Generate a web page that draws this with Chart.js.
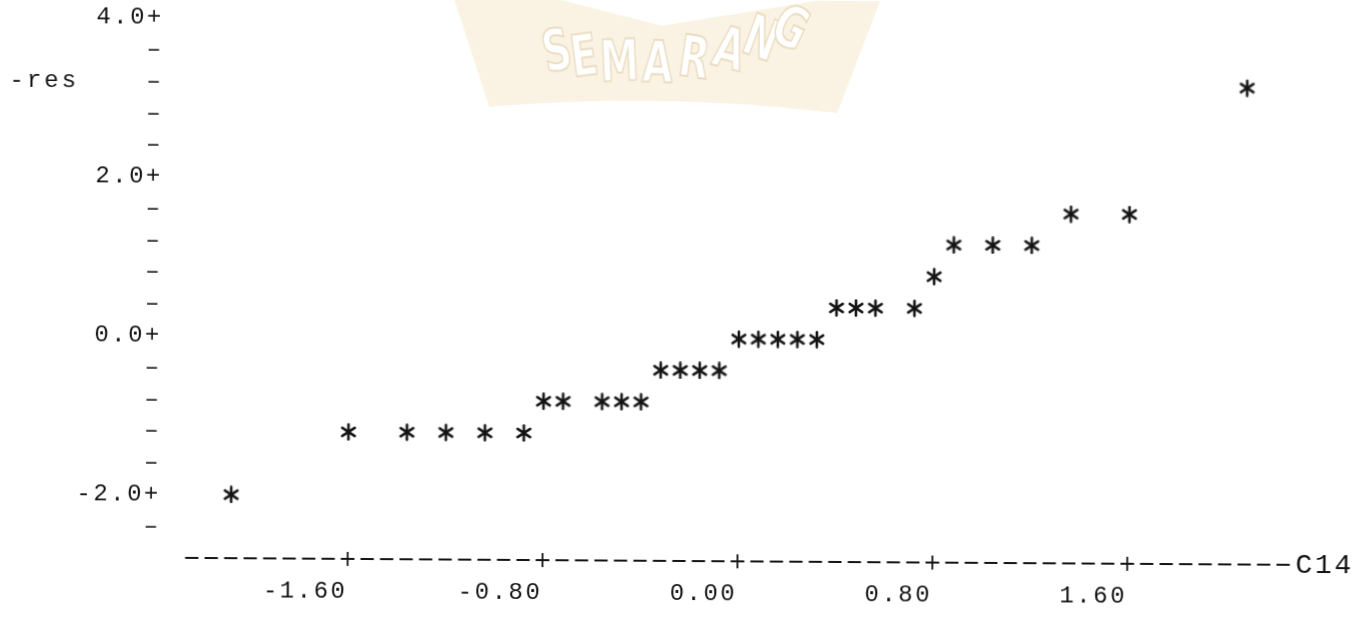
<!DOCTYPE html>
<html>
<head>
<meta charset="utf-8">
<title>Normal plot of residuals</title>
<script src="https://cdn.jsdelivr.net/npm/chart.js@4.4.1/dist/chart.umd.min.js"></script>
<style>
  html, body { margin: 0; padding: 0; background: #fff; overflow: hidden; }
  #sheet { width: 1366px; height: 630px; transform: rotate(0.36deg); transform-origin: 683px 315px; }
  canvas { display: block; }
</style>
</head>
<body>
<div id="sheet"><canvas id="plot" width="1366" height="630"></canvas></div>
<script>
// Normal scores (C14) against residuals, one entry per plotted '*'
const normalScores = [-2.08, -1.60, -1.36, -1.20, -1.04, -0.88, -0.80, -0.72, -0.56, -0.48,
                      -0.40, -0.32, -0.24, -0.16, -0.08, 0.00, 0.08, 0.16, 0.24, 0.32,
                      0.40, 0.48, 0.56, 0.72, 0.80, 0.88, 1.04, 1.20, 1.36, 1.60, 2.08];
const residuals = [-2.0, -1.2, -1.2, -1.2, -1.2, -1.2, -0.8, -0.8, -0.8, -0.8,
                   -0.8, -0.4, -0.4, -0.4, -0.4, 0.0, 0.0, 0.0, 0.0, 0.0,
                   0.4, 0.4, 0.4, 0.4, 0.8, 1.2, 1.2, 1.2, 1.6, 1.6, 3.2];

const xTickValues = [-1.6, -0.8, 0.0, 0.8, 1.6];
const xTickLabels = ['-1.60', '-0.80', '0.00', '0.80', '1.60'];
const yTickValues = [4.0, 3.6, 3.2, 2.8, 2.4, 2.0, 1.6, 1.2, 0.8, 0.4, 0.0, -0.4, -0.8, -1.2, -1.6, -2.0, -2.4];
const yTickLabels = ['4.0+', '–', '–', '–', '–', '2.0+', '–', '–', '–', '–', '0.0+', '–', '–', '–', '–', '-2.0+', '–'];

const X_NAME = 'C14';
const Y_NAME = '-res';
const Y_NAME_ROW = 3.2;

const INK = '#141414';
const MONO = '"Liberation Mono", "DejaVu Sans Mono", monospace';

// six-armed asterisk used as the point glyph
function asteriskGlyph(size, lw) {
  const c = document.createElement('canvas');
  c.width = c.height = size;
  const g = c.getContext('2d');
  g.strokeStyle = INK;
  g.lineWidth = lw;
  g.lineCap = 'round';
  const cx = size / 2, cy = size / 2, r = size / 2 - lw / 2 - 0.2;
  [90, 33, 147].forEach(a => {
    const t = a * Math.PI / 180;
    g.beginPath();
    g.moveTo(cx - r * Math.cos(t), cy - r * Math.sin(t));
    g.lineTo(cx + r * Math.cos(t), cy + r * Math.sin(t));
    g.stroke();
  });
  return c;
}

function labelFor(values, labels, v) {
  const i = values.findIndex(t => Math.abs(t - v) < 1e-6);
  return i < 0 ? '' : labels[i];
}

// faint emblem behind the plot + typewriter letter spacing
const paper = {
  id: 'paper',
  beforeDraw(chart) {
    const ctx = chart.ctx;
    ctx.save();
    ctx.letterSpacing = '0px';
    ctx.fillStyle = '#faf3e4';
    ctx.beginPath();
    ctx.moveTo(452, 0);
    ctx.lineTo(556, 0);
    ctx.lineTo(660, 26);
    ctx.lineTo(814, 0);
    ctx.lineTo(878, 0);
    ctx.lineTo(836, 112);
    ctx.quadraticCurveTo(660, 92, 488, 108);
    ctx.closePath();
    ctx.fill();
    const letters = [['S', 556, 56, -12], ['E', 583, 61, -8], ['M', 618, 66, -3], ['A', 656, 67, 2],
                     ['R', 692, 62, 8], ['A', 727, 53, 14], ['N', 758, 42, 20], ['G', 787, 31, 25]];
    ctx.font = 'bold 48px "DejaVu Sans", "Liberation Sans", sans-serif';
    ctx.textAlign = 'center';
    ctx.textBaseline = 'middle';
    ctx.fillStyle = '#ffffff';
    ctx.strokeStyle = '#eadcc0';
    ctx.lineWidth = 1.6;
    letters.forEach(([ch, x, y, a]) => {
      ctx.save();
      ctx.translate(x, y);
      ctx.rotate(a * Math.PI / 180);
      ctx.scale(0.82, 1.2);
      ctx.fillText(ch, 0, 0);
      ctx.strokeText(ch, 0, 0);
      ctx.restore();
    });
    ctx.restore();
    ctx.letterSpacing = '2.5px';
  },
  // character-style horizontal axis: dashes with '+' at each labelled tick
  afterDraw(chart) {
    const ctx = chart.ctx;
    const xs = chart.scales.x, ys = chart.scales.y;
    const y0 = xs.top;
    const cell = xs.getPixelForValue(0.08) - xs.getPixelForValue(0);
    const dash = cell * 0.68;
    const c0 = xs.getPixelForValue(0);
    ctx.save();
    ctx.strokeStyle = INK;
    ctx.lineWidth = 2;
    ctx.setLineDash([dash, cell - dash]);
    ctx.lineDashOffset = ((xs.left - (c0 - dash / 2)) % cell + cell) % cell;
    ctx.beginPath();
    ctx.moveTo(xs.left, y0);
    ctx.lineTo(xs.right, y0);
    ctx.stroke();
    ctx.setLineDash([]);
    ctx.lineWidth = 1.8;
    xTickValues.forEach(v => {
      const px = xs.getPixelForValue(v);
      ctx.beginPath();
      ctx.moveTo(px, y0 - 7);
      ctx.lineTo(px, y0 + 7);
      ctx.moveTo(px - dash / 2, y0);
      ctx.lineTo(px + dash / 2, y0);
      ctx.stroke();
    });
    ctx.fillStyle = INK;
    ctx.textBaseline = 'middle';
    ctx.textAlign = 'left';
    ctx.letterSpacing = '2.7px';
    ctx.font = '28px ' + MONO;
    ctx.fillText(X_NAME, xs.right + 5, y0 + 1);
    ctx.letterSpacing = '3px';
    ctx.font = '24px ' + MONO;
    ctx.fillText(Y_NAME, 8, ys.getPixelForValue(Y_NAME_ROW));
    ctx.restore();
  }
};

const glyph = asteriskGlyph(18, 2.6);

new Chart(document.getElementById('plot'), {
  type: 'scatter',
  data: {
    datasets: [{
      data: normalScores.map((x, i) => ({ x, y: residuals[i] })),
      pointStyle: glyph,
      pointRadius: 9,
      showLine: false
    }]
  },
  options: {
    responsive: false,
    devicePixelRatio: 1,
    animation: false,
    events: [],
    layout: { padding: { left: 0, right: 74, top: 21, bottom: 0 } },
    plugins: { legend: { display: false }, tooltip: { enabled: false } },
    scales: {
      x: {
        type: 'linear',
        min: -2.27,
        max: 2.27,
        afterBuildTicks: s => { s.ticks = xTickValues.map(v => ({ value: v })); },
        afterFit: s => { s.height = 69; s.paddingLeft = 0; s.paddingRight = 0; },
        grid: { display: false, drawTicks: false },
        border: { display: false },
        ticks: {
          align: 'end',
          padding: 18,
          maxRotation: 0,
          autoSkip: false,
          color: INK,
          font: { family: MONO, size: 24 },
          callback: v => labelFor(xTickValues, xTickLabels, v)
        }
      },
      y: {
        type: 'linear',
        min: -2.8,
        max: 4.0,
        afterBuildTicks: s => { s.ticks = yTickValues.map(v => ({ value: v })); },
        afterFit: s => { s.width = 186; s.paddingTop = 0; s.paddingBottom = 0; },
        grid: { display: false, drawTicks: false },
        border: { display: false },
        ticks: {
          padding: 24,
          autoSkip: false,
          color: INK,
          font: { family: MONO, size: 24 },
          callback: v => labelFor(yTickValues, yTickLabels, v)
        }
      }
    }
  },
  plugins: [paper]
});
</script>
</body>
</html>
